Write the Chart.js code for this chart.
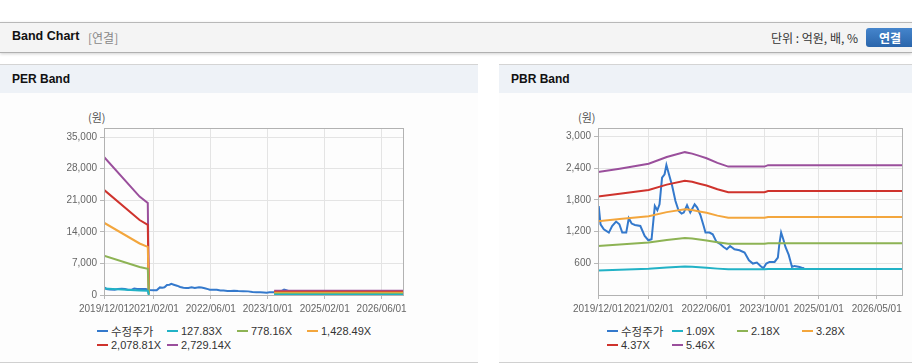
<!DOCTYPE html>
<html>
<head>
<meta charset="utf-8">
<script src="https://cdn.jsdelivr.net/npm/chart.js@4.4.0/dist/chart.umd.min.js"></script>
<style>
  body { margin: 0; width: 912px; height: 364px; overflow: hidden; background: #fff; position: relative;
         font-family: 'Liberation Sans', Arial, 'Noto Sans CJK KR', sans-serif; color: #222; }
  .bar { position: absolute; left: 0; top: 22px; width: 912px; height: 29px; background: #f4f4f4;
         border-top: 1px solid #b8b8b8; border-bottom: 1px solid #b0b0b0; box-shadow: 0 1px 3px rgba(0,0,0,0.18); }
  .bar .title { position: absolute; left: 12px; top: 6px; font-size: 12.5px; font-weight: bold; color: #111; }
  .bar .sub { position: absolute; left: 88px; top: 7px; font-size: 12px; color: #888; font-family: 'Noto Sans CJK KR', sans-serif; line-height: 15px; }
  .bar .unit { position: absolute; left: 771px; top: 7px; font-size: 12px; color: #333; font-family: 'Noto Sans CJK KR', sans-serif; line-height: 15px; }
  .bar .btn { position: absolute; left: 866px; top: 5px; width: 52px; height: 19px; border-radius: 3px;
              background: linear-gradient(#4585cc, #2a65ab); color: #fff; font-size: 12px; font-weight: bold;
              font-family: 'Noto Sans CJK KR', sans-serif; line-height: 19px; text-indent: 13px; }
  .panel { position: absolute; top: 64px; height: 297px; border-top: 1px solid #d4d4d4; border-bottom: 1px solid #d0d0d0; background: #fdfdfd; }
  .panel .head { height: 28px; background: #eef2f7; font-size: 12px; font-weight: bold; color: #111; line-height: 29px; padding-left: 12px; }
  .panel canvas { position: absolute; left: 0; top: 28px; }
  .unitlbl { position: absolute; top: 44px; font-size: 11px; color: #555; font-family: 'Noto Sans CJK KR', sans-serif; }
  .legend { position: absolute; top: 259px; display: flex; flex-wrap: wrap; font-size: 11px; color: #333; line-height: 14px; }
  .legend .item { display: flex; align-items: center; white-space: nowrap; }
  .legend .mk { width: 11px; height: 2px; margin-right: 3px; }
  .legend .ko { font-family: 'Noto Sans CJK KR', sans-serif; font-size: 11.5px; }
</style>
</head>
<body>
<div class="bar">
  <span class="title">Band Chart</span>
  <span class="sub">[연결]</span>
  <span class="unit">단위 : 억원, 배, %</span>
  <span class="btn">연결</span>
</div>

<div class="panel" style="left:0; width:478px;">
  <div class="head">PER Band</div>
  <span class="unitlbl" style="left:88px;">(원)</span>
  <canvas id="perChart" width="478" height="222"></canvas>
  <div class="legend" id="perLegend" style="left:97px; width:280px;"></div>
</div>

<div class="panel" style="left:499px; width:413px;">
  <div class="head">PBR Band</div>
  <span class="unitlbl" style="left:79px;">(원)</span>
  <canvas id="pbrChart" width="413" height="222"></canvas>
  <div class="legend" id="pbrLegend" style="left:108px; width:260px;"></div>
</div>

<script>
// x positions are months counted from 2019/12/01
const perTickMonths = [0, 14, 30, 46, 62, 78];
const perTickLabels = ['2019/12/01', '2021/02/01', '2022/06/01', '2023/10/01', '2025/02/01', '2026/06/01'];
const pbrTickMonths = [0, 14, 30, 46, 61, 77];
const pbrTickLabels = ['2019/12/01', '2021/02/01', '2022/06/01', '2023/10/01', '2025/01/01', '2026/05/01'];
const perYTicks = [0, 7000, 14000, 21000, 28000, 35000];
const pbrYTicks = [600, 1200, 1800, 2400, 3000];

// 수정주가
const priceMonths = [0.2, 0.7, 1.6, 3, 3.9, 5, 5.9, 6.7, 7.8, 8.5, 9.3, 10.2, 11.7, 12.9, 13.9, 14.8, 15.7, 16.4, 17,
  17.7, 18.4, 18.9, 19.6, 20.5, 21.4, 22.3, 23.1, 23.7, 24.6, 25.5, 26.7, 27.4, 28.3, 29.2, 29.7, 30.8, 31.7, 32.7,
  33.6, 34.7, 35.6, 36.5, 37.7, 39.1, 40.5, 41.7, 42.8, 43.9, 44.9, 45.7, 46.5, 47.4, 48.8, 49.7, 50.1, 50.6, 51.2,
  51.8, 52.7, 53.6, 54.3, 55.7, 56.6, 57];
const priceValues = [1684, 1338, 1244, 1181, 1306, 1389, 1338, 1181, 1181, 1451, 1352, 1325, 1306, 1117, 1036, 1055, 1684, 1603, 1716,
  2221, 2284, 2459, 2284, 2062, 1779, 1590, 1541, 1560, 1698, 1560, 1716, 1654, 1514, 1306, 1181, 1181, 1149, 1011,
  974, 909, 866, 928, 866, 847, 803, 658, 595, 614, 550, 507, 595, 626, 626, 709, 960, 1181, 1055,
  909, 758, 531, 550, 531, 507, 510];

// PER band lines
const perBandNames = ['127.83X', '778.16X', '1,428.49X', '2,078.81X', '2,729.14X'];
const perBandMonths = [0, 10, 12.3, 12.6, 13, 47.8, 84];
const perBand1 = [1433, 1021, 955, 15, null, 45, 45];
const perBand2 = [8723, 6218, 5813, 90, null, 272, 272];
const perBand3 = [16013, 11414, 10671, 160, null, 500, 500];
const perBand4 = [23303, 16610, 15529, 230, null, 728, 728];
const perBand5 = [30594, 21806, 20387, 300, null, 955, 955];

// PBR band lines
const pbrBandNames = ['1.09X', '2.18X', '3.28X', '4.37X', '5.46X'];
const pbrBandMonths = [0, 6, 14, 19, 24, 26, 28, 30, 33, 36, 46, 47, 84];
const pbrBand1 = [464, 477, 496, 521, 540, 534, 525, 517, 499, 485, 485, 491, 491];
const pbrBand2 = [929, 955, 992, 1042, 1079, 1068, 1051, 1033, 998, 970, 970, 981, 981];
const pbrBand3 = [1397, 1437, 1492, 1568, 1624, 1607, 1581, 1555, 1502, 1460, 1460, 1476, 1476];
const pbrBand4 = [1862, 1914, 1988, 2089, 2163, 2141, 2106, 2071, 2001, 1945, 1945, 1967, 1967];
const pbrBand5 = [2326, 2391, 2484, 2610, 2703, 2675, 2632, 2588, 2501, 2430, 2430, 2457, 2457];

const priceName = '수정주가';
const colors = ['#3479cc', '#22b2c6', '#8db354', '#f3a63d', '#cf332d', '#9a4f9c'];

const tickFont = { family: "'Liberation Sans', Arial, sans-serif", size: 10 };

const frame = {
  id: 'frame',
  afterDatasetsDraw(chart) {
    const a = chart.chartArea;
    const ctx = chart.ctx;
    ctx.save();
    ctx.strokeStyle = '#b2b2b2';
    ctx.lineWidth = 1;
    ctx.strokeRect(Math.round(a.left) + 0.5, Math.round(a.top) + 0.5, Math.round(a.right - a.left), Math.round(a.bottom - a.top));
    ctx.restore();
  }
};

function pts(xs, ys) {
  return xs.map((x, i) => ({ x: x, y: ys[i] }));
}

function buildChart(id, cfg) {
  const datasets = [{
    label: priceName, data: pts(priceMonths, priceValues), borderColor: colors[0], order: 1
  }];
  cfg.bands.forEach((b, i) => {
    datasets.push({ label: cfg.names[i], data: pts(cfg.bandMonths, b), borderColor: colors[i + 1], order: 0 });
  });
  datasets.forEach(d => { d.borderWidth = 2; d.pointRadius = 0; d.fill = false; d.tension = 0; d.spanGaps = false; });

  new Chart(document.getElementById(id), {
    type: 'line',
    data: { datasets: datasets },
    options: {
      responsive: false,
      devicePixelRatio: 1,
      animation: false,
      layout: { padding: { left: 0, right: cfg.padRight, top: 35, bottom: 0 } },
      plugins: { legend: { display: false }, tooltip: { enabled: false } },
      scales: {
        x: {
          type: 'linear', min: 0, max: 84,
          afterBuildTicks: s => { s.ticks = cfg.tickMonths.map(v => ({ value: v })); },
          afterFit: s => { s.height = 20; },
          ticks: {
            autoSkip: false, maxRotation: 0, font: tickFont, color: '#666', padding: 4,
            callback: v => cfg.tickLabels[cfg.tickMonths.indexOf(v)]
          },
          grid: { color: '#e4e4e4', tickColor: '#b8b8b8', tickLength: 4 },
          border: { display: false }
        },
        y: {
          min: 0, max: cfg.yMax,
          afterBuildTicks: s => { s.ticks = cfg.yTicks.map(v => ({ value: v })); },
          afterFit: s => { s.width = cfg.axisWidth; },
          ticks: { font: tickFont, color: '#666', padding: 3, callback: v => v.toLocaleString('en-US') },
          grid: { color: '#e4e4e4', tickColor: '#b8b8b8', tickLength: 4 },
          border: { display: false }
        }
      }
    },
    plugins: [frame]
  });

  const legend = document.getElementById(cfg.legendId);
  datasets.forEach((d, i) => {
    const item = document.createElement('div');
    item.className = 'item';
    item.style.width = cfg.legendStep + 'px';
    item.innerHTML = '<span class="mk" style="background:' + colors[i] + '"></span>' +
      '<span class="' + (i === 0 ? 'ko' : '') + '">' + d.label + '</span>';
    legend.appendChild(item);
  });
}

buildChart('perChart', {
  bands: [perBand1, perBand2, perBand3, perBand4, perBand5], names: perBandNames, bandMonths: perBandMonths,
  tickMonths: perTickMonths, tickLabels: perTickLabels, yTicks: perYTicks, yMax: 37000,
  axisWidth: 104, padRight: 75, legendId: 'perLegend', legendStep: 70
});

buildChart('pbrChart', {
  bands: [pbrBand1, pbrBand2, pbrBand3, pbrBand4, pbrBand5], names: pbrBandNames, bandMonths: pbrBandMonths,
  tickMonths: pbrTickMonths, tickLabels: pbrTickLabels, yTicks: pbrYTicks, yMax: 3160,
  axisWidth: 99, padRight: 10, legendId: 'pbrLegend', legendStep: 65
});
</script>
</body>
</html>
